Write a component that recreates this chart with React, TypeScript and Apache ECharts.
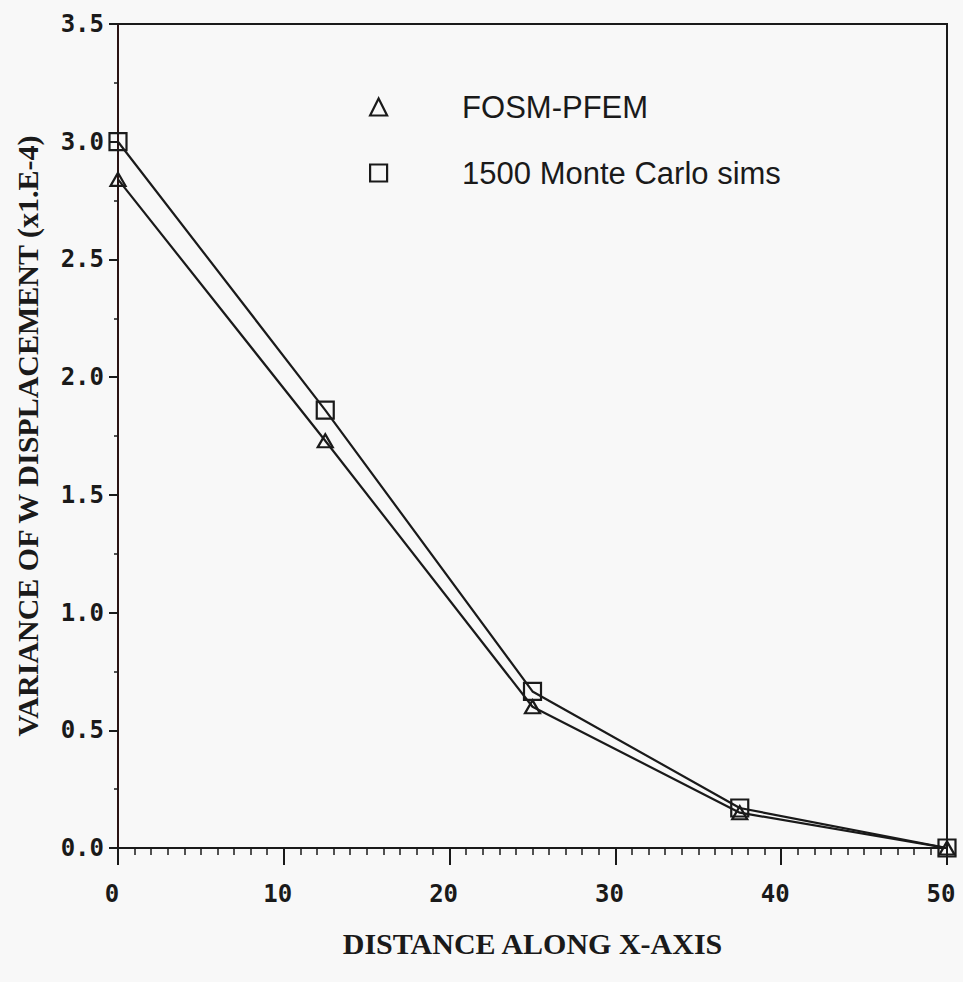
import React, { useEffect, useRef } from "react";
import * as echarts from "echarts";

const xPositions = [0, 12.5, 25, 37.5, 50];
const fosmValues = [2.84, 1.73, 0.6, 0.15, 0.0];
const monteCarloValues = [3.0, 1.86, 0.665, 0.17, 0.0];
const seriesNames = ["FOSM-PFEM", "1500 Monte Carlo sims"];
const xAxisTitle = "DISTANCE ALONG X-AXIS";
const yAxisTitle = "VARIANCE OF W DISPLACEMENT (x1.E-4)";

export default function App() {
  const ref = useRef<HTMLDivElement>(null);
  useEffect(() => {
    if (!ref.current) return;
    const chart = echarts.init(ref.current, null, { renderer: "svg" });
    const ink = "#1a1a1a";
    const tickFont = {
      fontFamily: "DejaVu Sans Mono",
      fontSize: 24,
      fontWeight: "bold",
      color: ink,
    };
    const markerStyle = {
      color: "rgba(0,0,0,0)",
      borderColor: ink,
      borderWidth: 2.2,
    };
    chart.setOption({
      animation: false,
      backgroundColor: "#f8f8f8",
      grid: {
        left: 118,
        top: 24,
        right: 16,
        bottom: 134,
        show: true,
        borderColor: ink,
        borderWidth: 2,
        backgroundColor: "transparent",
      },
      legend: {
        orient: "vertical",
        left: 364,
        top: 84,
        itemWidth: 17,
        itemHeight: 17,
        itemGap: 30,
        data: [
          { name: seriesNames[0], icon: "triangle", itemStyle: markerStyle },
          { name: seriesNames[1], icon: "rect", itemStyle: markerStyle },
        ],
        textStyle: {
          fontFamily: "Liberation Sans",
          fontSize: 31,
          color: ink,
          lineHeight: 36,
          padding: [0, 0, 0, 70],
        },
      },
      xAxis: {
        type: "value",
        min: 0,
        max: 50,
        interval: 10,
        name: xAxisTitle,
        nameLocation: "middle",
        nameGap: 80,
        nameTextStyle: {
          fontFamily: "Liberation Serif",
          fontWeight: "bold",
          fontSize: 30,
          color: ink,
        },
        axisLine: { show: true, lineStyle: { color: ink, width: 2 } },
        axisTick: { show: true, length: 17, lineStyle: { color: ink, width: 2 } },
        minorTick: { show: true, splitNumber: 10, length: 7, lineStyle: { color: ink, width: 1.5 } },
        axisLabel: { ...tickFont, margin: 34, padding: [0, 12, 0, 0] },
        splitLine: { show: false },
      },
      yAxis: {
        type: "value",
        min: 0,
        max: 3.5,
        interval: 0.5,
        name: yAxisTitle,
        nameLocation: "middle",
        nameGap: 76,
        nameTextStyle: {
          fontFamily: "Liberation Serif",
          fontWeight: "bold",
          fontSize: 30,
          color: ink,
        },
        axisLine: { show: true, lineStyle: { color: "#2a1414", width: 2 } },
        axisTick: { show: true, length: 9, lineStyle: { color: ink, width: 2 } },
        minorTick: { show: true, splitNumber: 2, length: 4, lineStyle: { color: ink, width: 1.5 } },
        axisLabel: {
          ...tickFont,
          margin: 14,
          formatter: (v: number) => v.toFixed(1),
        },
        splitLine: { show: false },
      },
      series: [
        {
          name: seriesNames[0],
          type: "line",
          data: xPositions.map((x, i) => [x, fosmValues[i]]),
          symbol: "triangle",
          symbolSize: [15, 13],
          itemStyle: markerStyle,
          lineStyle: { color: ink, width: 2.2 },
          z: 3,
        },
        {
          name: seriesNames[1],
          type: "line",
          data: xPositions.map((x, i) => [x, monteCarloValues[i]]),
          symbol: "rect",
          symbolSize: 17,
          itemStyle: markerStyle,
          lineStyle: { color: ink, width: 2.2 },
          z: 3,
        },
      ],
    });
    return () => chart.dispose();
  }, []);
  return (
    <div
      ref={ref}
      style={{ position: "absolute", left: 0, top: 0, width: 963, height: 982 }}
    />
  );
}
